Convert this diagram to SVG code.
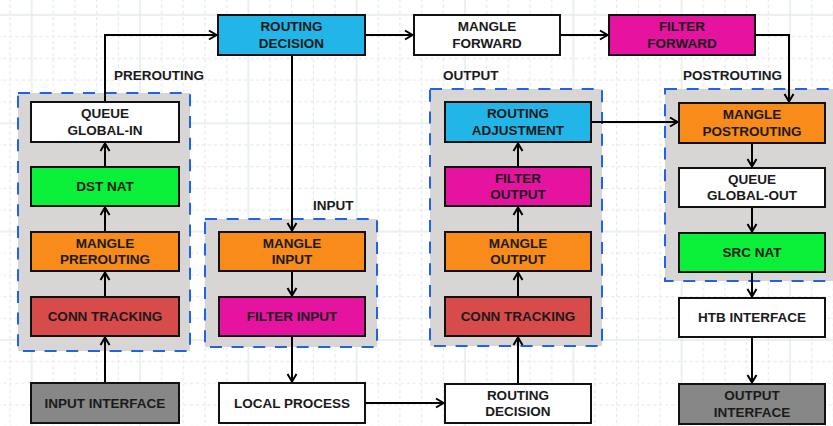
<svg xmlns="http://www.w3.org/2000/svg" width="833" height="426" viewBox="0 0 833 426">
<defs>
<pattern id="grid" patternUnits="userSpaceOnUse" x="21.667" y="5" width="108.333" height="108.333">
<g stroke="#dce6e6" stroke-width="1" stroke-dasharray="3 3" fill="none">
<line x1="31.67" y1="0" x2="31.67" y2="108.333"/><line x1="53.33" y1="0" x2="53.33" y2="108.333"/><line x1="75" y1="0" x2="75" y2="108.333"/><line x1="96.67" y1="0" x2="96.67" y2="108.333"/>
<line y1="31.67" x1="0" y2="31.67" x2="108.333"/><line y1="53.33" x1="0" y2="53.33" x2="108.333"/><line y1="75" x1="0" y2="75" x2="108.333"/><line y1="96.67" x1="0" y2="96.67" x2="108.333"/>
</g>
<g stroke="#d6e2e2" stroke-width="1" fill="none">
<line x1="10" y1="0" x2="10" y2="108.333"/><line y1="10" x1="0" y2="10" x2="108.333"/>
</g>
</pattern>
<marker id="arr" markerUnits="userSpaceOnUse" markerWidth="14" markerHeight="14" viewBox="0 0 14 14" refX="12" refY="7" orient="auto">
<path d="M4,2.5 L11.5,7 L4,11.5" fill="none" stroke="#000" stroke-width="2"/>
</marker>
<style>
.box{stroke:#111;stroke-width:2}
.t{font-family:"Liberation Sans",Arial,sans-serif;font-weight:bold;font-size:13.5px;fill:#1a1a1a;text-anchor:middle;dominant-baseline:central}
.lbl{font-family:"Liberation Sans",Arial,sans-serif;font-weight:bold;font-size:13.5px;fill:#1a1a1a}
.grp{fill:#d8d5d5;stroke:#1f63e8;stroke-width:2;stroke-dasharray:12 9.67}
.white{fill:#ffffff}.blue{fill:#22b5e8}.mag{fill:#e5139f}.orange{fill:#f88b1a}.green{fill:#0af038}.red{fill:#d84b4b}.gray{fill:#878787}
.c{fill:none;stroke:#000;stroke-width:2;marker-end:url(#arr)}
</style>
</defs>
<rect width="833" height="426" fill="#fff"/>
<rect width="833" height="426" fill="url(#grid)"/>

<g id="group-prerouting"><rect class="grp" x="18" y="93" width="172" height="258"/><text class="lbl" x="114" y="80">PREROUTING</text></g>
<g id="group-input"><rect class="grp" x="205" y="219" width="172" height="128"/><text class="lbl" x="313" y="210">INPUT</text></g>
<g id="group-output"><rect class="grp" x="430" y="89" width="172" height="257"/><text class="lbl" x="443" y="80">OUTPUT</text></g>
<g id="group-postrouting"><rect class="grp" x="665" y="89" width="190" height="192"/><text class="lbl" x="683" y="80">POSTROUTING</text></g>

<g id="connectors">
<path class="c" d="M105,101 V35 H217"/>
<path class="c" d="M366,35 H413"/>
<path class="c" d="M561,35 H608"/>
<path class="c" d="M756,35 H789 V102"/>
<path class="c" d="M292,56 V231"/>
<path class="c" d="M292,272 V296"/>
<path class="c" d="M292,337 V382"/>
<path class="c" d="M366,403 H444"/>
<path class="c" d="M518,383 V337"/>
<path class="c" d="M518,296 V272"/>
<path class="c" d="M518,231 V207"/>
<path class="c" d="M518,166 V143"/>
<path class="c" d="M592,122 H678"/>
<path class="c" d="M752,144 V167"/>
<path class="c" d="M752,208 V232"/>
<path class="c" d="M752,273 V297"/>
<path class="c" d="M752,338 V383"/>
<path class="c" d="M105,382 V337"/>
<path class="c" d="M105,296 V272"/>
<path class="c" d="M105,231 V207"/>
<path class="c" d="M105,166 V143"/>
</g>

<g id="queue-global-in"><rect class="box white" x="31" y="102" width="148" height="40"/><text class="t" x="105" y="113.7">QUEUE</text><text class="t" x="105" y="130.3">GLOBAL-IN</text></g>
<g id="dst-nat"><rect class="box green" x="31" y="167" width="148" height="39"/><text class="t" x="105" y="186.5">DST NAT</text></g>
<g id="mangle-prerouting"><rect class="box orange" x="31" y="232" width="148" height="39"/><text class="t" x="105" y="243.2">MANGLE</text><text class="t" x="105" y="259.8">PREROUTING</text></g>
<g id="conn-tracking-in"><rect class="box red" x="31" y="297" width="148" height="39"/><text class="t" x="105" y="316.5">CONN TRACKING</text></g>
<g id="input-interface"><rect class="box gray" x="31" y="383" width="148" height="40"/><text class="t" x="105" y="403">INPUT INTERFACE</text></g>

<g id="routing-decision"><rect class="box blue" x="218" y="15" width="147" height="40"/><text class="t" x="291.5" y="26.7">ROUTING</text><text class="t" x="291.5" y="43.3">DECISION</text></g>
<g id="mangle-forward"><rect class="box white" x="414" y="15" width="146" height="40"/><text class="t" x="487" y="26.7">MANGLE</text><text class="t" x="487" y="43.3">FORWARD</text></g>
<g id="filter-forward"><rect class="box mag" x="609" y="15" width="146" height="40"/><text class="t" x="682" y="26.7">FILTER</text><text class="t" x="682" y="43.3">FORWARD</text></g>

<g id="mangle-input"><rect class="box orange" x="219" y="232" width="146" height="39"/><text class="t" x="292" y="243.2">MANGLE</text><text class="t" x="292" y="259.8">INPUT</text></g>
<g id="filter-input"><rect class="box mag" x="219" y="297" width="146" height="39"/><text class="t" x="292" y="316.5">FILTER INPUT</text></g>
<g id="local-process"><rect class="box white" x="219" y="383" width="146" height="40"/><text class="t" x="292" y="403">LOCAL PROCESS</text></g>

<g id="routing-adjustment"><rect class="box blue" x="445" y="102" width="146" height="40"/><text class="t" x="518" y="113.7">ROUTING</text><text class="t" x="518" y="130.3">ADJUSTMENT</text></g>
<g id="filter-output"><rect class="box mag" x="445" y="167" width="146" height="39"/><text class="t" x="518" y="178.2">FILTER</text><text class="t" x="518" y="194.8">OUTPUT</text></g>
<g id="mangle-output"><rect class="box orange" x="445" y="232" width="146" height="39"/><text class="t" x="518" y="243.2">MANGLE</text><text class="t" x="518" y="259.8">OUTPUT</text></g>
<g id="conn-tracking-out"><rect class="box red" x="445" y="297" width="146" height="39"/><text class="t" x="518" y="316.5">CONN TRACKING</text></g>
<g id="routing-decision-out"><rect class="box white" x="445" y="384" width="146" height="39"/><text class="t" x="518" y="395.2">ROUTING</text><text class="t" x="518" y="411.8">DECISION</text></g>

<g id="mangle-postrouting"><rect class="box orange" x="679" y="103" width="146" height="40"/><text class="t" x="752" y="114.7">MANGLE</text><text class="t" x="752" y="131.3">POSTROUTING</text></g>
<g id="queue-global-out"><rect class="box white" x="679" y="168" width="146" height="39"/><text class="t" x="752" y="179.2">QUEUE</text><text class="t" x="752" y="195.8">GLOBAL-OUT</text></g>
<g id="src-nat"><rect class="box green" x="679" y="233" width="146" height="39"/><text class="t" x="752" y="252.5">SRC NAT</text></g>
<g id="htb-interface"><rect class="box white" x="679" y="298" width="146" height="39"/><text class="t" x="752" y="317.5">HTB INTERFACE</text></g>
<g id="output-interface"><rect class="box gray" x="679" y="384" width="146" height="40"/><text class="t" x="752" y="395.7">OUTPUT</text><text class="t" x="752" y="412.3">INTERFACE</text></g>
</svg>
